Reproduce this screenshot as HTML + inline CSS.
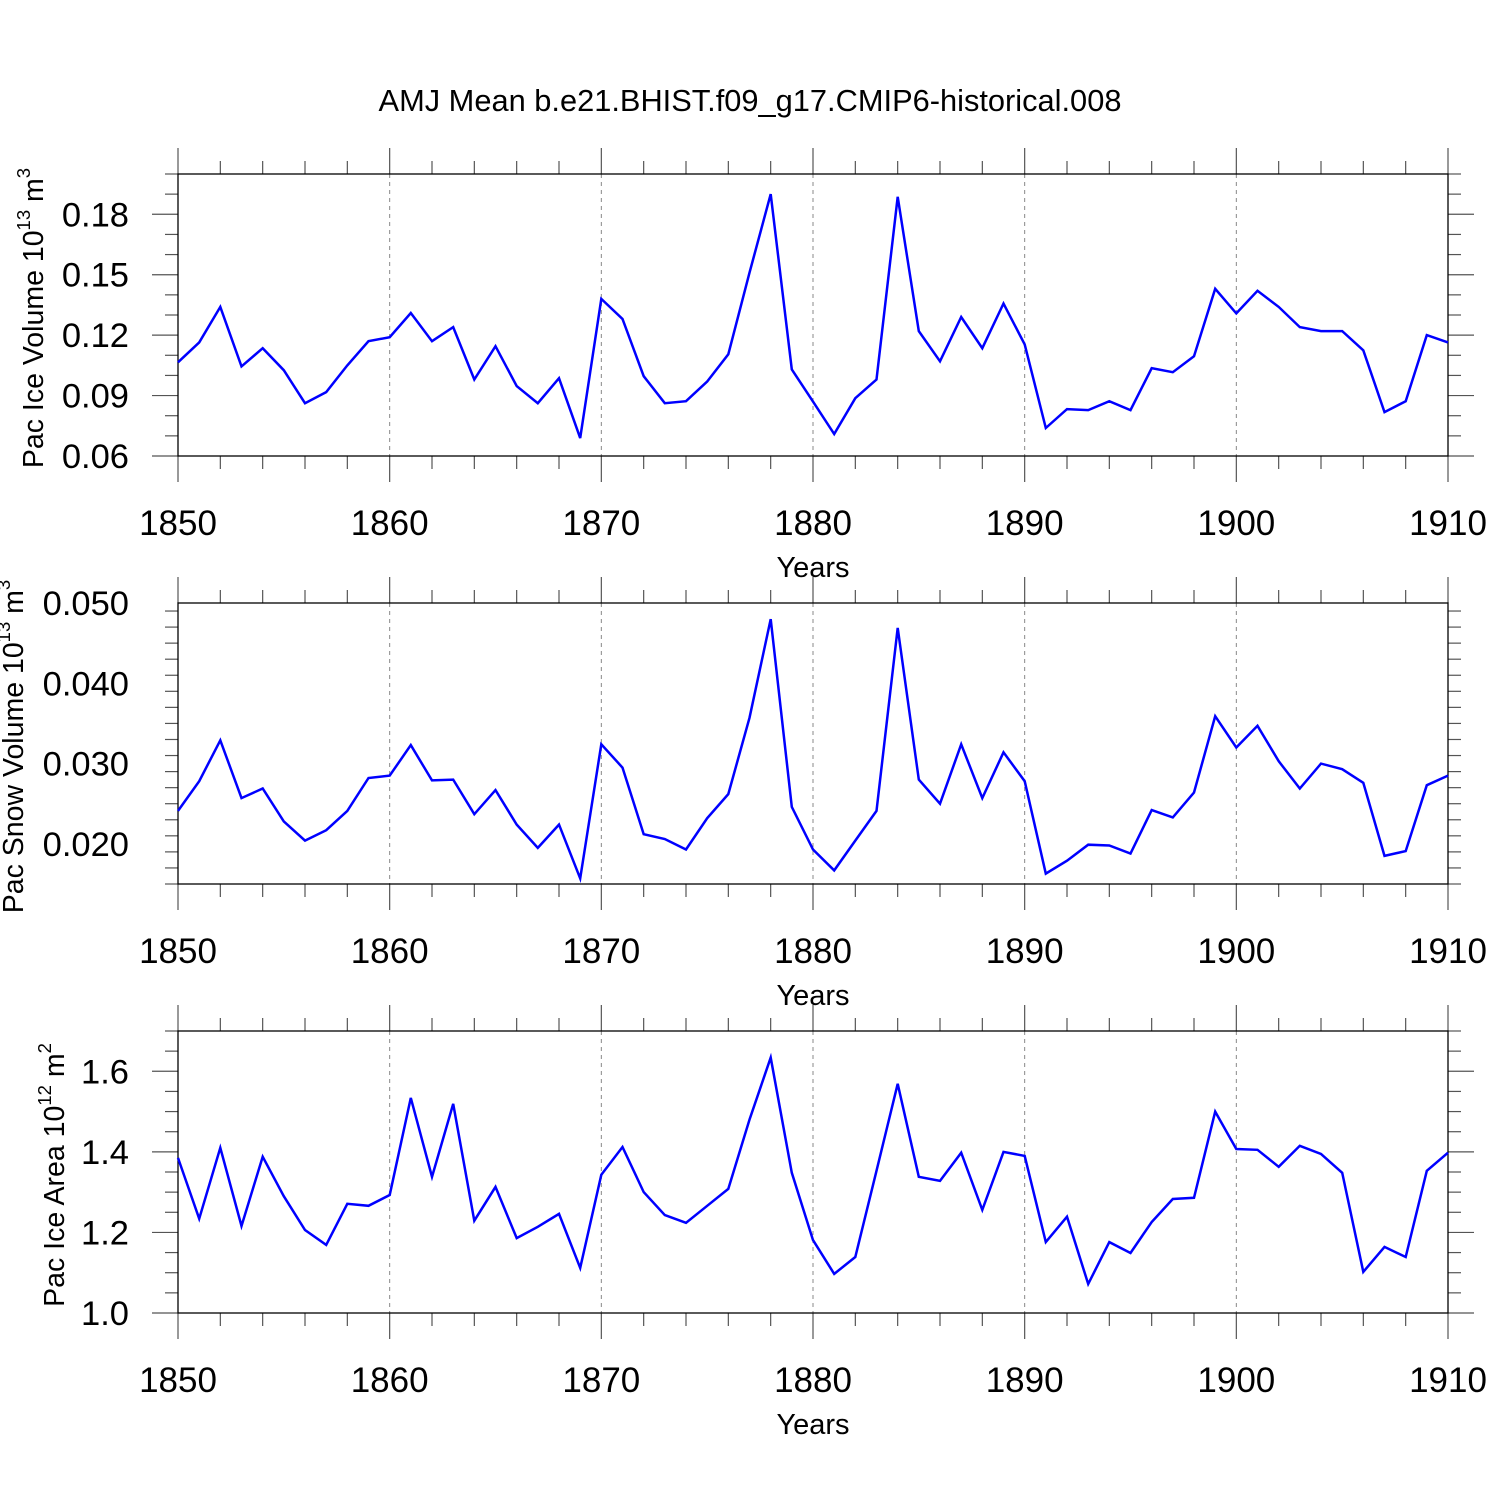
<!DOCTYPE html>
<html><head><meta charset="utf-8"><style>
html,body{margin:0;padding:0;background:#fff;}
svg{display:block;font-family:"Liberation Sans",Arial,sans-serif;}
</style></head><body>
<svg id="chart" width="1500" height="1500" viewBox="0 0 1500 1500" xmlns="http://www.w3.org/2000/svg">
<rect width="1500" height="1500" fill="#fff"/>
<text x="750" y="111" font-size="30.8" text-anchor="middle">AMJ Mean b.e21.BHIST.f09_g17.CMIP6-historical.008</text>
</svg>
<script>
const years = [];
for (let y = 1850; y <= 1910; y++) years.push(y);
const iceVolume = [0.1065,0.1164,0.134,0.1045,0.1135,0.1026,0.0862,0.0917,0.105,0.117,0.119,0.131,0.117,0.124,0.098,0.1145,0.0947,0.0862,0.0986,0.0689,0.138,0.128,0.0996,0.0862,0.0872,0.097,0.1105,0.151,0.190,0.103,0.087,0.0709,0.0887,0.098,0.1887,0.122,0.107,0.129,0.1135,0.1357,0.1154,0.0739,0.0833,0.0828,0.0872,0.0828,0.1036,0.1016,0.1095,0.143,0.1308,0.142,0.134,0.124,0.122,0.122,0.1125,0.0818,0.0872,0.120,0.1164];
const snowVolume = [0.0241,0.0278,0.0329,0.0257,0.0269,0.0228,0.0204,0.0217,0.0241,0.0282,0.0285,0.0323,0.0279,0.0280,0.0237,0.0267,0.0224,0.0195,0.0224,0.0157,0.0324,0.0295,0.0212,0.0206,0.0193,0.0232,0.0262,0.0357,0.0480,0.0246,0.0193,0.0167,0.0204,0.0241,0.0469,0.0280,0.0250,0.0324,0.0257,0.0314,0.0278,0.0163,0.0179,0.0199,0.0198,0.0188,0.0242,0.0233,0.0264,0.0359,0.0320,0.0347,0.0303,0.0269,0.0300,0.0293,0.0276,0.0185,0.0191,0.0273,0.0285];
const iceArea = [1.385,1.234,1.41,1.216,1.388,1.29,1.206,1.169,1.271,1.266,1.293,1.534,1.338,1.519,1.229,1.313,1.186,1.214,1.246,1.112,1.343,1.412,1.30,1.243,1.224,1.266,1.308,1.48,1.634,1.348,1.181,1.097,1.139,1.353,1.569,1.338,1.328,1.398,1.256,1.40,1.39,1.176,1.239,1.072,1.176,1.149,1.226,1.283,1.286,1.50,1.407,1.405,1.363,1.415,1.395,1.348,1.102,1.164,1.139,1.353,1.398];
const xTickLabels = ["1850","1860","1870","1880","1890","1900","1910"];
const iceTicks = ["0.06","0.09","0.12","0.15","0.18"];
const snowTicks = ["0.020","0.030","0.040","0.050"];
const areaTicks = ["1.0","1.2","1.4","1.6"];

const NS = "http://www.w3.org/2000/svg";
const svg = document.getElementById('chart');
function el(tag, attrs, parent) {
  const e = document.createElementNS(NS, tag);
  for (const k in attrs) e.setAttribute(k, attrs[k]);
  (parent || svg).appendChild(e);
  return e;
}
const X0 = 178, X1 = 1448;
const xScale = yr => X0 + (yr - 1850) / 60 * (X1 - X0);

const panels = [
  {name:'ice-volume', top:174, bot:456, min:0.06, max:0.2, data:iceVolume, ticks:iceTicks, minor:0.01, titleX:33, title:'Pac Ice Volume 10', sup:'13', unit:' m', usup:'3'},
  {name:'snow-volume', top:603, bot:884, min:0.015, max:0.05, data:snowVolume, ticks:snowTicks, minor:0.002, titleX:13, title:'Pac Snow Volume 10', sup:'13', unit:' m', usup:'3'},
  {name:'ice-area', top:1031, bot:1313, min:1.0, max:1.7, data:iceArea, ticks:areaTicks, minor:0.05, titleX:54, title:'Pac Ice Area 10', sup:'12', unit:' m', usup:'2'}
];

panels.forEach(p => {
  const g = el('g', {});
  
  
  const yScale = v => p.bot - (v - p.min) / (p.max - p.min) * (p.bot - p.top);
  for (let yr = 1860; yr <= 1900; yr += 10) {
    const l = el('line', {x1:xScale(yr), x2:xScale(yr), y1:p.top, y2:p.bot, stroke:'#888', 'stroke-width':1, 'stroke-dasharray':'4,4'}, g);
    
    
  }
  for (let yr = 1850; yr <= 1910; yr += 2) {
    const major = (yr % 10 === 0);
    const len = major ? 26 : 13;
    const x = xScale(yr);
    el('line', {x1:x, x2:x, y1:p.top, y2:p.top - len, stroke:'#555', 'stroke-width':1.2}, g);
    el('line', {x1:x, x2:x, y1:p.bot, y2:p.bot + len, stroke:'#555', 'stroke-width':1.2}, g);
  }
  xTickLabels.forEach(t => {
    const tx = el('text', {x:xScale(+t), y:p.bot + 79, 'font-size':35, 'text-anchor':'middle'}, g);
    tx.textContent = t;
    
    
  });
  const xt = el('text', {x:813, y:p.bot + 121, 'font-size':29, 'text-anchor':'middle'}, g);
  xt.textContent = 'Years';
  
  
  const majorVals = p.ticks.map(Number);
  for (let v = p.min; v <= p.max + 1e-9; v += p.minor) {
    const y = yScale(v);
    const isMajor = majorVals.some(m => Math.abs(m - v) < p.minor / 10);
    const len = isMajor ? 26 : 13;
    el('line', {x1:X0, x2:X0 - len, y1:y, y2:y, stroke:'#555', 'stroke-width':1.2}, g);
    el('line', {x1:X1, x2:X1 + len, y1:y, y2:y, stroke:'#555', 'stroke-width':1.2}, g);
  }
  p.ticks.forEach(t => {
    const ty = el('text', {x:129, y:yScale(+t) + 12, 'font-size':34.5, 'text-anchor':'end'}, g);
    ty.textContent = t;
    
    
  });
  const fr = el('rect', {x:X0, y:p.top, width:X1 - X0, height:p.bot - p.top, fill:'none', stroke:'#000', 'stroke-width':1.3}, g);
  
  
  const cy = (p.top + p.bot) / 2 + 3;
  const yt = el('text', {x:p.titleX, y:cy, 'font-size':28.5, 'text-anchor':'middle', transform:'rotate(-90 ' + p.titleX + ' ' + cy + ')', dy:'10'}, g);
  
  
  const s1 = el('tspan', {}, yt); s1.textContent = p.title;
  const s2 = el('tspan', {dy:-13, 'font-size':18.5}, yt); s2.textContent = p.sup;
  const s3 = el('tspan', {dy:13}, yt); s3.textContent = p.unit;
  const s4 = el('tspan', {dy:-13, 'font-size':18.5}, yt); s4.textContent = p.usup;
  const pts = p.data.map((v, i) => xScale(years[i]).toFixed(1) + ',' + yScale(v).toFixed(1)).join(' ');
  const line = el('polyline', {points:pts, fill:'none', stroke:'#0000ff', 'stroke-width':2.5, 'stroke-linejoin':'miter'}, g);
  
  
});
</script>
</body></html>
